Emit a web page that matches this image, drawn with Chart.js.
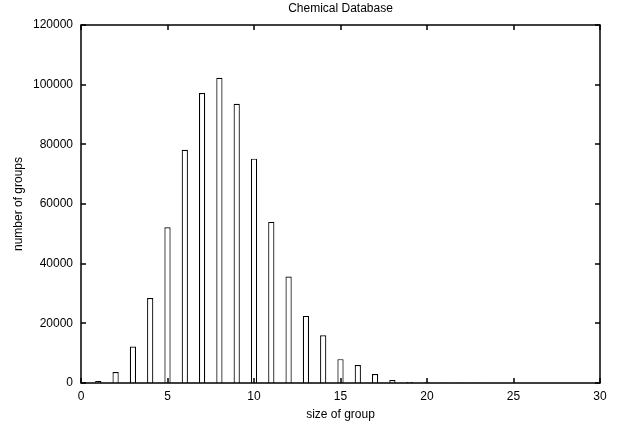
<!DOCTYPE html>
<html lang="en">
<head>
<meta charset="UTF-8">
<title>Chemical Database</title>
<script src="https://cdn.jsdelivr.net/npm/chart.js"></script>
<style>
  html, body { margin: 0; padding: 0; background: #fff; overflow: hidden; }
  #wrap { width: 621px; height: 425px; }
</style>
</head>
<body>
<div id="wrap"><canvas id="chart"></canvas></div>
<script>
  const titleText = 'Chemical Database';
  const xLabel = 'size of group';
  const yLabel = 'number of groups';
  const sizes  = [1, 2, 3, 4, 5, 6, 7, 8, 9, 10, 11, 12, 13, 14, 15, 16, 17, 18, 19, 20, 21, 22, 23, 24, 25, 26];
  const counts = [700, 3700, 12200, 28500, 52200, 78200, 97200, 102300, 93600, 75200, 54000, 35700, 22500, 16000, 8000, 6000, 3000, 1000, 350, 150, 80, 60, 50, 40, 30, 20];
  const xTicks = [0, 5, 10, 15, 20, 25, 30];
  const yTicks = [0, 20000, 40000, 60000, 80000, 100000, 120000];

  const font = { family: '"Liberation Sans", Arial, sans-serif', size: 12 };
  Chart.defaults.font = font;
  Chart.defaults.color = '#000';

  // gnuplot style frame with ticks pointing inward on all four sides
  const frame = {
    id: 'frame',
    afterDraw(chart) {
      const { ctx, chartArea: a, scales: { x, y } } = chart;
      const l = Math.round(a.left), r = Math.round(a.right);
      const t = Math.round(a.top), b = Math.round(a.bottom);
      ctx.save();
      ctx.strokeStyle = '#000';
      ctx.lineWidth = 1.5;
      ctx.beginPath();
      xTicks.forEach(v => {
        const px = Math.round(x.getPixelForValue(v));
        ctx.moveTo(px, b); ctx.lineTo(px, b - 5);
        ctx.moveTo(px, t); ctx.lineTo(px, t + 5);
      });
      yTicks.forEach(v => {
        const py = Math.round(y.getPixelForValue(v));
        ctx.moveTo(l, py); ctx.lineTo(l + 5, py);
        ctx.moveTo(r, py); ctx.lineTo(r - 5, py);
      });
      ctx.stroke();
      ctx.beginPath();
      ctx.rect(l, t, r - l, b - t);
      ctx.stroke();
      ctx.textAlign = 'center';
      ctx.textBaseline = 'middle';
      ctx.font = '12px "Liberation Sans", Arial, sans-serif';
      ctx.fillStyle = '#000';
      ctx.fillText(titleText, (a.left + a.right) / 2, 9);
      ctx.restore();
    }
  };

  new Chart(document.getElementById('chart'), {
    type: 'bar',
    data: {
      datasets: [{
        data: sizes.map((s, i) => ({ x: s, y: counts[i] })),
        backgroundColor: '#fff',
        borderColor: '#000',
        borderWidth: 1.2,
        barPercentage: 0.36,
        categoryPercentage: 1
      }]
    },
    options: {
      responsive: true,
      maintainAspectRatio: false,
      animation: false,
      layout: { padding: { top: 25, right: 21, left: 0, bottom: 0 } },
      plugins: { legend: { display: false }, tooltip: { enabled: false } },
      scales: {
        x: {
          type: 'linear',
          offset: false,
          min: 0, max: 30,
          afterBuildTicks: s => { s.ticks = xTicks.map(v => ({ value: v })); },
          afterFit: s => { s.height = 42; },
          grid: { display: false, drawTicks: false, offset: false },
          border: { display: false },
          ticks: { padding: 6, maxRotation: 0 },
          title: { display: true, text: xLabel, padding: { top: 2, bottom: 3 } }
        },
        y: {
          min: 0, max: 120000,
          afterBuildTicks: s => { s.ticks = yTicks.map(v => ({ value: v })); },
          afterFit: s => { s.width = 81; },
          grid: { display: false, drawTicks: false },
          border: { display: false },
          ticks: { padding: 8, callback: v => String(v) },
          title: { display: true, text: yLabel, padding: { top: 11, bottom: 0 } }
        }
      }
    },
    plugins: [frame]
  });
</script>
</body>
</html>
